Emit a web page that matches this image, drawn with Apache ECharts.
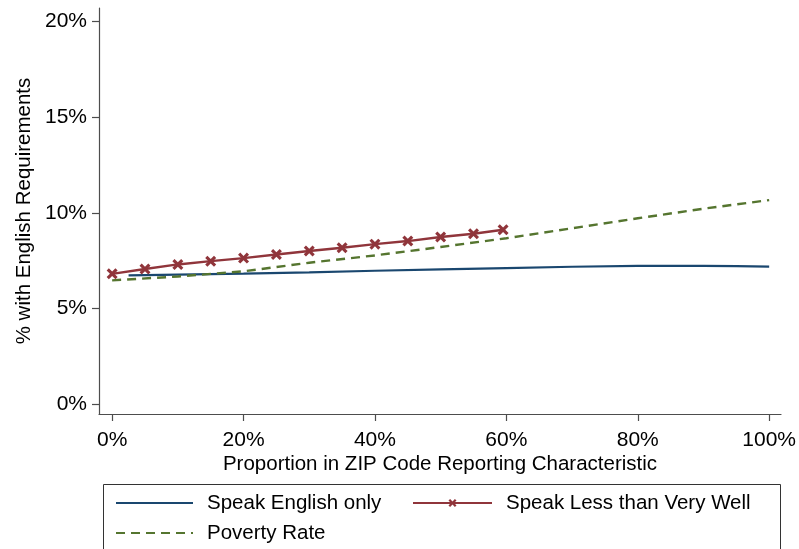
<!DOCTYPE html>
<html>
<head>
<meta charset="utf-8">
<script src="https://cdn.jsdelivr.net/npm/echarts@6/dist/echarts.min.js"></script>
<style>
  html, body { margin: 0; padding: 0; background: #fff; }
  #main { width: 799px; height: 549px; }
</style>
</head>
<body>
<div id="main"></div>
<script>
var xTicks = [0, 20, 40, 60, 80, 100];
var yTicks = [0, 5, 10, 15, 20];

var englishX = [2.5, 10, 20, 30, 40, 50, 60, 70, 80, 90, 95, 100];
var englishY = [6.74, 6.78, 6.83, 6.9, 6.98, 7.05, 7.12, 7.19, 7.23, 7.23, 7.22, 7.2];

var lessX = [0, 5, 10, 15, 20, 25, 30, 35, 40, 45, 50, 55, 59.5];
var lessY = [6.82, 7.07, 7.31, 7.48, 7.64, 7.83, 8.01, 8.18, 8.37, 8.53, 8.74, 8.91, 9.12];

var povX = [0, 10, 20, 30, 40, 50, 60, 70, 80, 90, 100];
var povY = [6.48, 6.68, 6.95, 7.4, 7.78, 8.22, 8.68, 9.2, 9.72, 10.22, 10.67];

function pairs(xs, ys) {
  return xs.map(function (x, i) { return [x, ys[i]]; });
}

var font = 'Liberation Sans, Arial, sans-serif';
var axisColor = '#4d4d4d';
var crossPath = 'path://M2,0 L5,3 L8,0 L10,2 L7,5 L10,8 L8,10 L5,7 L2,10 L0,8 L3,5 L0,2 Z';
var legendText = { fontFamily: font, fontSize: 20.5, color: '#000', lineHeight: 24, padding: [0, 0, 0, 9] };

function legendAt(name, left, top, width, height, hideSymbol) {
  return {
    data: [hideSymbol ? { name: name, itemStyle: { opacity: 0 } } : { name: name }],
    left: left,
    top: top,
    itemWidth: width,
    itemHeight: height,
    textStyle: legendText
  };
}

var myChart = echarts.init(document.getElementById('main'), null, { renderer: 'canvas' });

var option = {
  backgroundColor: '#fff',
  animation: false,
  grid: { left: 99, right: 18, top: 8, bottom: 135, outerBoundsMode: 'none', containLabel: false },
  xAxis: {
    type: 'value',
    min: -2,
    max: 101.8,
    name: 'Proportion in ZIP Code Reporting Characteristic',
    nameLocation: 'middle',
    nameGap: 40,
    nameMoveOverlap: false,
    nameTextStyle: { fontFamily: font, fontSize: 20.5, color: '#000' },
    axisLine: { show: true, onZero: false, lineStyle: { color: axisColor, width: 1.2 } },
    axisTick: { show: true, length: 7, customValues: xTicks, lineStyle: { color: axisColor, width: 1.2 } },
    axisLabel: {
      customValues: xTicks, margin: 16, fontFamily: font, fontSize: 21, color: '#000',
      formatter: function (v) { return v + '%'; }
    },
    splitLine: { show: false }
  },
  yAxis: {
    type: 'value',
    min: -0.5,
    max: 20.7,
    name: '% with English Requirements',
    nameLocation: 'middle',
    nameGap: 64,
    nameMoveOverlap: false,
    nameTextStyle: { fontFamily: font, fontSize: 20.5, color: '#000' },
    axisLine: { show: true, onZero: false, lineStyle: { color: axisColor, width: 1.2 } },
    axisTick: { show: true, length: 7, customValues: yTicks, lineStyle: { color: axisColor, width: 1.2 } },
    axisLabel: {
      customValues: yTicks, margin: 12, fontFamily: font, fontSize: 21, color: '#000',
      formatter: function (v) { return v + '%'; }
    },
    splitLine: { show: false }
  },
  legend: [
    legendAt('Speak English only', 110, 486, 77, 14, true),
    legendAt('Poverty Rate', 110, 516, 77, 14, true),
    legendAt('Speak Less than Very Well', 407, 486, 79, 10, false)
  ],
  graphic: [
    {
      type: 'rect',
      shape: { x: 103.5, y: 484.5, width: 677, height: 80 },
      style: { fill: 'none', stroke: '#333', lineWidth: 1 },
      silent: true
    }
  ],
  series: [
    {
      name: 'Speak English only',
      type: 'line',
      data: pairs(englishX, englishY),
      symbol: 'none',
      color: '#1a476f',
      lineStyle: { color: '#1a476f', width: 2.2 }
    },
    {
      name: 'Speak Less than Very Well',
      type: 'line',
      data: pairs(lessX, lessY),
      symbol: crossPath,
      symbolSize: 11,
      color: '#90353b',
      itemStyle: { color: '#90353b' },
      lineStyle: { color: '#90353b', width: 2.4 }
    },
    {
      name: 'Poverty Rate',
      type: 'line',
      data: pairs(povX, povY),
      symbol: 'none',
      color: '#55752f',
      lineStyle: { color: '#55752f', width: 2.4, type: [9, 6] }
    }
  ]
};

myChart.setOption(option);
window.addEventListener('resize', myChart.resize);
</script>
</body>
</html>
